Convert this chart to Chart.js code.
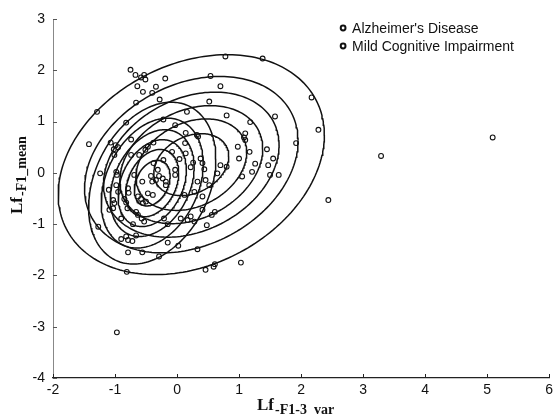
<!DOCTYPE html>
<html><head><meta charset="utf-8">
<script src="https://cdn.jsdelivr.net/npm/chart.js@4.4.0/dist/chart.umd.min.js"></script>
<style>html,body{margin:0;padding:0;background:#fff;}canvas{display:block;}</style>
</head><body>
<canvas id="c" width="557" height="415"></canvas>
<script>
const seriesLabels = ["Alzheimer's Disease", "Mild Cognitive Impairment"];
const adPoints = [[0.78,2.27],[1.38,2.23],[0.54,1.89],[0.70,1.69],[0.52,1.39],[2.17,1.47],[0.16,1.19],[0.80,1.12],[1.58,1.10],[1.18,0.99],[2.28,0.84],[0.14,0.78],[0.32,0.74],[0.34,0.71],[1.10,0.77],[1.08,0.69],[1.10,0.64],[0.98,0.51],[0.13,0.58],[1.17,0.41],[1.45,0.46],[1.00,0.28],[1.26,0.18],[1.47,0.15],[1.55,0.28],[1.21,0.02],[1.50,-0.04],[1.64,-0.04],[0.38,0.28],[0.41,0.19],[0.70,0.15],[0.80,0.12],[0.65,-0.01],[1.05,-0.07],[0.44,0.07],[0.46,-0.14],[0.52,-0.24],[0.33,-0.17],[0.12,-0.43],[0.28,-0.37],[0.41,-0.46],[0.06,-0.89],[0.17,-0.92],[0.22,-0.85],[0.28,-0.95],[0.41,-0.72],[0.56,-0.82],[0.61,-0.76],[0.48,-1.02],[0.02,-1.42],[0.33,-1.49],[0.46,-1.89],[0.61,-1.78],[0.59,-1.83],[1.03,-1.75],[1.92,0.58],[3.29,0.33],[5.09,0.69],[2.44,-0.53],[-0.75,2.01],[-0.67,1.91],[-0.58,1.86],[-0.53,1.91],[-0.51,1.82],[-0.19,1.84],[-1.29,1.19],[-1.42,0.56],[-0.97,-3.11],[0.26,0.20],[0.22,0.11],[0.14,0.38],[-0.22,1.04],[-0.03,0.93]];
const mciPoints = [[-0.64,1.69],[-0.34,1.68],[-0.55,1.58],[-0.40,1.56],[-0.28,1.43],[-0.66,1.37],[-0.82,0.98],[-1.07,0.59],[-0.99,0.54],[-0.95,0.50],[-0.74,0.65],[-0.38,0.59],[-0.47,0.51],[-0.51,0.45],[-1.02,0.46],[-1.01,0.35],[-0.08,0.41],[0.04,0.27],[-0.22,0.25],[-0.38,0.19],[-0.74,0.35],[-0.61,0.35],[-1.24,-0.01],[-0.98,0.02],[-0.97,-0.04],[-0.69,-0.04],[-0.56,-0.17],[-0.42,-0.06],[-0.40,-0.17],[-0.31,0.06],[-0.29,-0.06],[-0.23,-0.11],[-0.18,-0.17],[-0.18,-0.24],[-0.03,0.06],[-0.03,-0.04],[-0.34,-0.14],[-1.10,-0.33],[-0.98,-0.24],[-0.95,-0.37],[-0.79,-0.30],[-0.78,-0.39],[-0.47,-0.40],[-0.39,-0.43],[-0.63,-0.46],[-1.03,-0.53],[-1.01,-0.59],[-0.85,-0.51],[-0.82,-0.58],[-0.50,-0.56],[-0.55,-0.59],[-0.58,-0.51],[-1.09,-0.72],[-1.03,-0.69],[-0.80,-0.69],[-0.66,-0.76],[-0.63,-0.82],[-0.57,-0.89],[-0.53,-0.95],[-0.90,-0.89],[-1.27,-1.05],[-0.71,-1.00],[-0.21,-0.89],[-0.15,-1.00],[-0.90,-1.29],[-0.82,-1.24],[-0.79,-1.31],[-0.72,-1.33],[-0.66,-1.22],[-0.15,-1.36],[-0.79,-1.55],[-0.56,-1.55],[-0.29,-1.63],[-0.81,-1.93]];
const xTicks = [-2,-1,0,1,2,3,4,5,6];
const yTicks = [-4,-3,-2,-1,0,1,2,3];
const xTitle = ["Lf", "-F1-3_var"];
const yTitle = ["Lf", "-F1_mean"];
// fitted Gaussian contour models (AD, MCI)
const contourCenters = [[0.23,0.16],[-0.40,-0.20]];
const contourSigmas = [[1.088,1.087],[0.52,0.80]];
const contourRho = [0.27,0.30];
const contourLevels = [0.143,0.286,0.429,0.571,0.714,0.857];

function ringPoints(c, s, rho, level){
  const r = Math.sqrt(-2*Math.log(level));
  const q = Math.sqrt(1-rho*rho);
  const pts = [];
  for(let i=0;i<=200;i++){
    const t = 2*Math.PI*i/200;
    pts.push({x:c[0]+r*s[0]*Math.cos(t), y:c[1]+r*s[1]*(rho*Math.cos(t)+q*Math.sin(t))});
  }
  return pts;
}
const datasets = [];
contourCenters.forEach((c,k)=>{
  contourLevels.forEach(lv=>{
    datasets.push({label:'', isContour:true, data:ringPoints(c,contourSigmas[k],contourRho[k],lv),
      showLine:true, pointRadius:0, borderColor:'#111', borderWidth:1.5, fill:false, tension:0});
  });
});
[adPoints, mciPoints].forEach((pts,k)=>{
  datasets.push({label:seriesLabels[k], data:pts.map(p=>({x:p[0],y:p[1]})),
    showLine:false, pointStyle:'circle', pointRadius:2.4, borderWidth:1.1,
    borderColor:'#111', backgroundColor:'rgba(255,255,255,0)'});
});

const SANS = '"Liberation Sans", Arial, sans-serif';
const SERIF = '"Liberation Serif", "Times New Roman", serif';

const decor = {
  id:'decor',
  afterDraw(chart){
    const ctx = chart.ctx, xs = chart.scales.x, ys = chart.scales.y, a = chart.chartArea;
    ctx.save();
    ctx.lineWidth = 1;
    ctx.strokeStyle = '#222';
    xs.ticks.forEach(t=>{
      const p = Math.round(xs.getPixelForValue(t.value))+0.5;
      ctx.beginPath(); ctx.moveTo(p,a.bottom); ctx.lineTo(p,a.bottom-4); ctx.stroke();
    });
    ctx.strokeStyle = '#555';
    ys.ticks.forEach(t=>{
      const p = Math.round(ys.getPixelForValue(t.value))+0.5;
      ctx.beginPath(); ctx.moveTo(a.left,p); ctx.lineTo(a.left+4,p); ctx.stroke();
    });
    // legend
    const lx = a.right - 206, ly = a.top + 9;
    chart.data.datasets.filter(d=>!d.isContour).forEach((d,i)=>{
      const y = ly + i*18;
      ctx.beginPath(); ctx.lineWidth = 2; ctx.strokeStyle = '#111';
      ctx.arc(lx, y, 2.4, 0, 2*Math.PI); ctx.stroke();
      ctx.fillStyle = '#111'; ctx.font = '14px ' + SANS;
      ctx.textAlign = 'left'; ctx.textBaseline = 'middle';
      ctx.fillText(d.label, lx + 9, y + 1);
    });
    // x title
    ctx.fillStyle = '#111'; ctx.textBaseline = 'alphabetic'; ctx.textAlign = 'left';
    let x0 = a.left + 204, b0 = a.bottom + 32;
    ctx.font = 'bold 17px ' + SERIF;
    ctx.fillText(xTitle[0], x0, b0);
    let w = ctx.measureText(xTitle[0]).width;
    ctx.font = 'bold 14px ' + SERIF;
    ctx.fillText(xTitle[1], x0 + w + 1, b0 + 4);
    // y title
    ctx.save();
    ctx.translate(22, 214);
    ctx.rotate(-Math.PI/2);
    ctx.font = 'bold 17px ' + SERIF;
    ctx.fillText(yTitle[0], 0, 0);
    w = ctx.measureText(yTitle[0]).width;
    ctx.font = 'bold 14px ' + SERIF;
    ctx.fillText(yTitle[1], w + 1, 4);
    ctx.restore();
    ctx.restore();
  }
};

new Chart(document.getElementById('c'), {
  type:'scatter',
  data:{datasets},
  options:{
    responsive:false, animation:false, events:[],
    layout:{padding:{top:19,right:5,left:0,bottom:0}},
    plugins:{legend:{display:false}, tooltip:{enabled:false}},
    scales:{
      x:{type:'linear', min:xTicks[0], max:xTicks[xTicks.length-1],
        afterBuildTicks:s=>{s.ticks = xTicks.map(v=>({value:v}));},
        afterFit:s=>{s.height = 37;},
        grid:{display:false, drawTicks:false},
        border:{display:true, color:'#222', width:1.3},
        ticks:{padding:4, color:'#111', font:{family:SANS, size:14}}},
      y:{type:'linear', min:yTicks[0], max:yTicks[yTicks.length-1],
        afterBuildTicks:s=>{s.ticks = yTicks.map(v=>({value:v}));},
        afterFit:s=>{s.width = 53;},
        grid:{display:false, drawTicks:false},
        border:{display:true, color:'#888', width:1, dash:[1,2]},
        ticks:{padding:8, color:'#111', font:{family:SANS, size:14}}}
    }
  },
  plugins:[decor]
});
</script>
</body></html>
